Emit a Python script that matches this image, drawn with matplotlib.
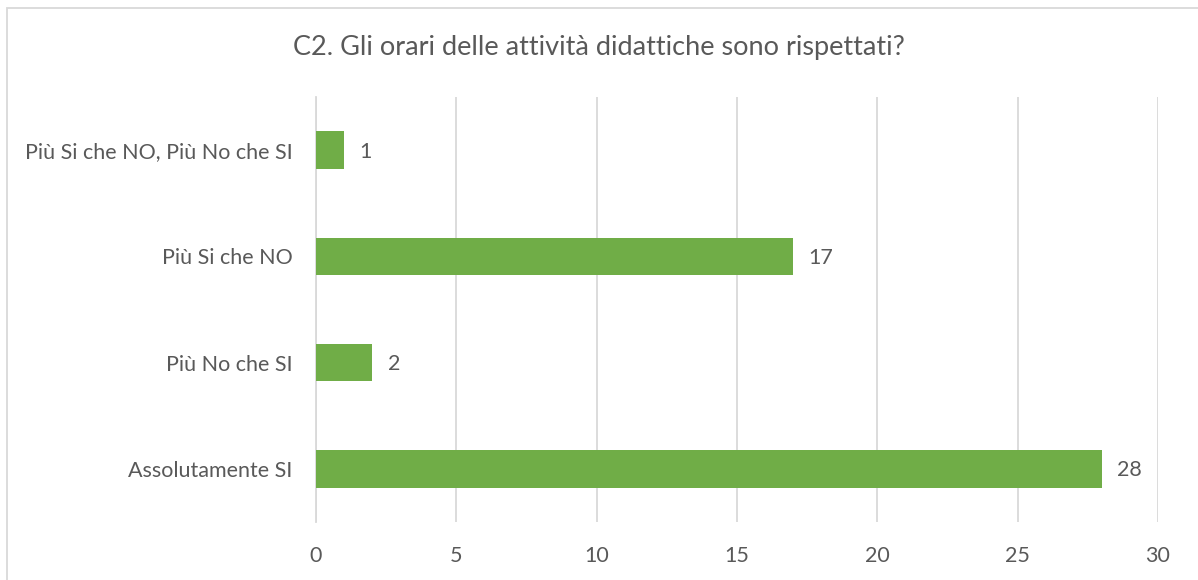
import matplotlib

matplotlib.use("Agg")
import matplotlib.pyplot as plt
from matplotlib.patches import Rectangle

plt.rcParams["font.family"] = ["Lato", "DejaVu Sans"]

categories = ["Assolutamente SI", "Più No che SI", "Più Si che NO", "Più Si che NO, Più No che SI"]
counts = [28, 2, 17, 1]
x_ticks = [0, 5, 10, 15, 20, 25, 30]
title = "C2. Gli orari delle attività didattiche sono rispettati?"

text_color = "#595959"
bar_color = "#70AD47"
grid_color = "#D9D9D9"

fig = plt.figure(figsize=(11.98, 5.8), dpi=100)
ax = fig.add_axes([316 / 1198, 1 - 522 / 580, (1158 - 316) / 1198, (522 - 97) / 580])

positions = range(len(categories))
bars = ax.barh(positions, counts, height=0.355, color=bar_color, zorder=3)
for bar, value in zip(bars, counts):
    ax.text(bar.get_width() + 0.55, bar.get_y() + bar.get_height() / 2 - 0.015, str(value),
            va="center", ha="left", fontsize=15.5, color=text_color)

ax.set_xlim(0, 30)
ax.set_ylim(-0.5, len(categories) - 0.5)
ax.set_xticks(x_ticks)
ax.set_yticks(list(positions), labels=categories)
ax.tick_params(axis="both", length=0, labelsize=15.5, labelcolor=text_color)
ax.tick_params(axis="x", pad=17)
ax.tick_params(axis="y", pad=17)
ax.grid(axis="x", color=grid_color, linewidth=1.3, zorder=0)
for side in ["top", "right", "bottom"]:
    ax.spines[side].set_visible(False)
ax.spines["left"].set_color(grid_color)
ax.spines["left"].set_linewidth(1.3)

fig.text(0.5, 1 - 47 / 580, title, ha="center", va="center", fontsize=19.5, color=text_color)

# cornice del grafico (solo lati sinistro e superiore visibili nel riquadro)
fig.patches.append(Rectangle((7 / 1198, -0.05), 1.1, 1 - 8 / 580 + 0.05, transform=fig.transFigure,
                             fill=False, edgecolor=grid_color, linewidth=1.3))

fig.savefig("out.png", dpi=100)
